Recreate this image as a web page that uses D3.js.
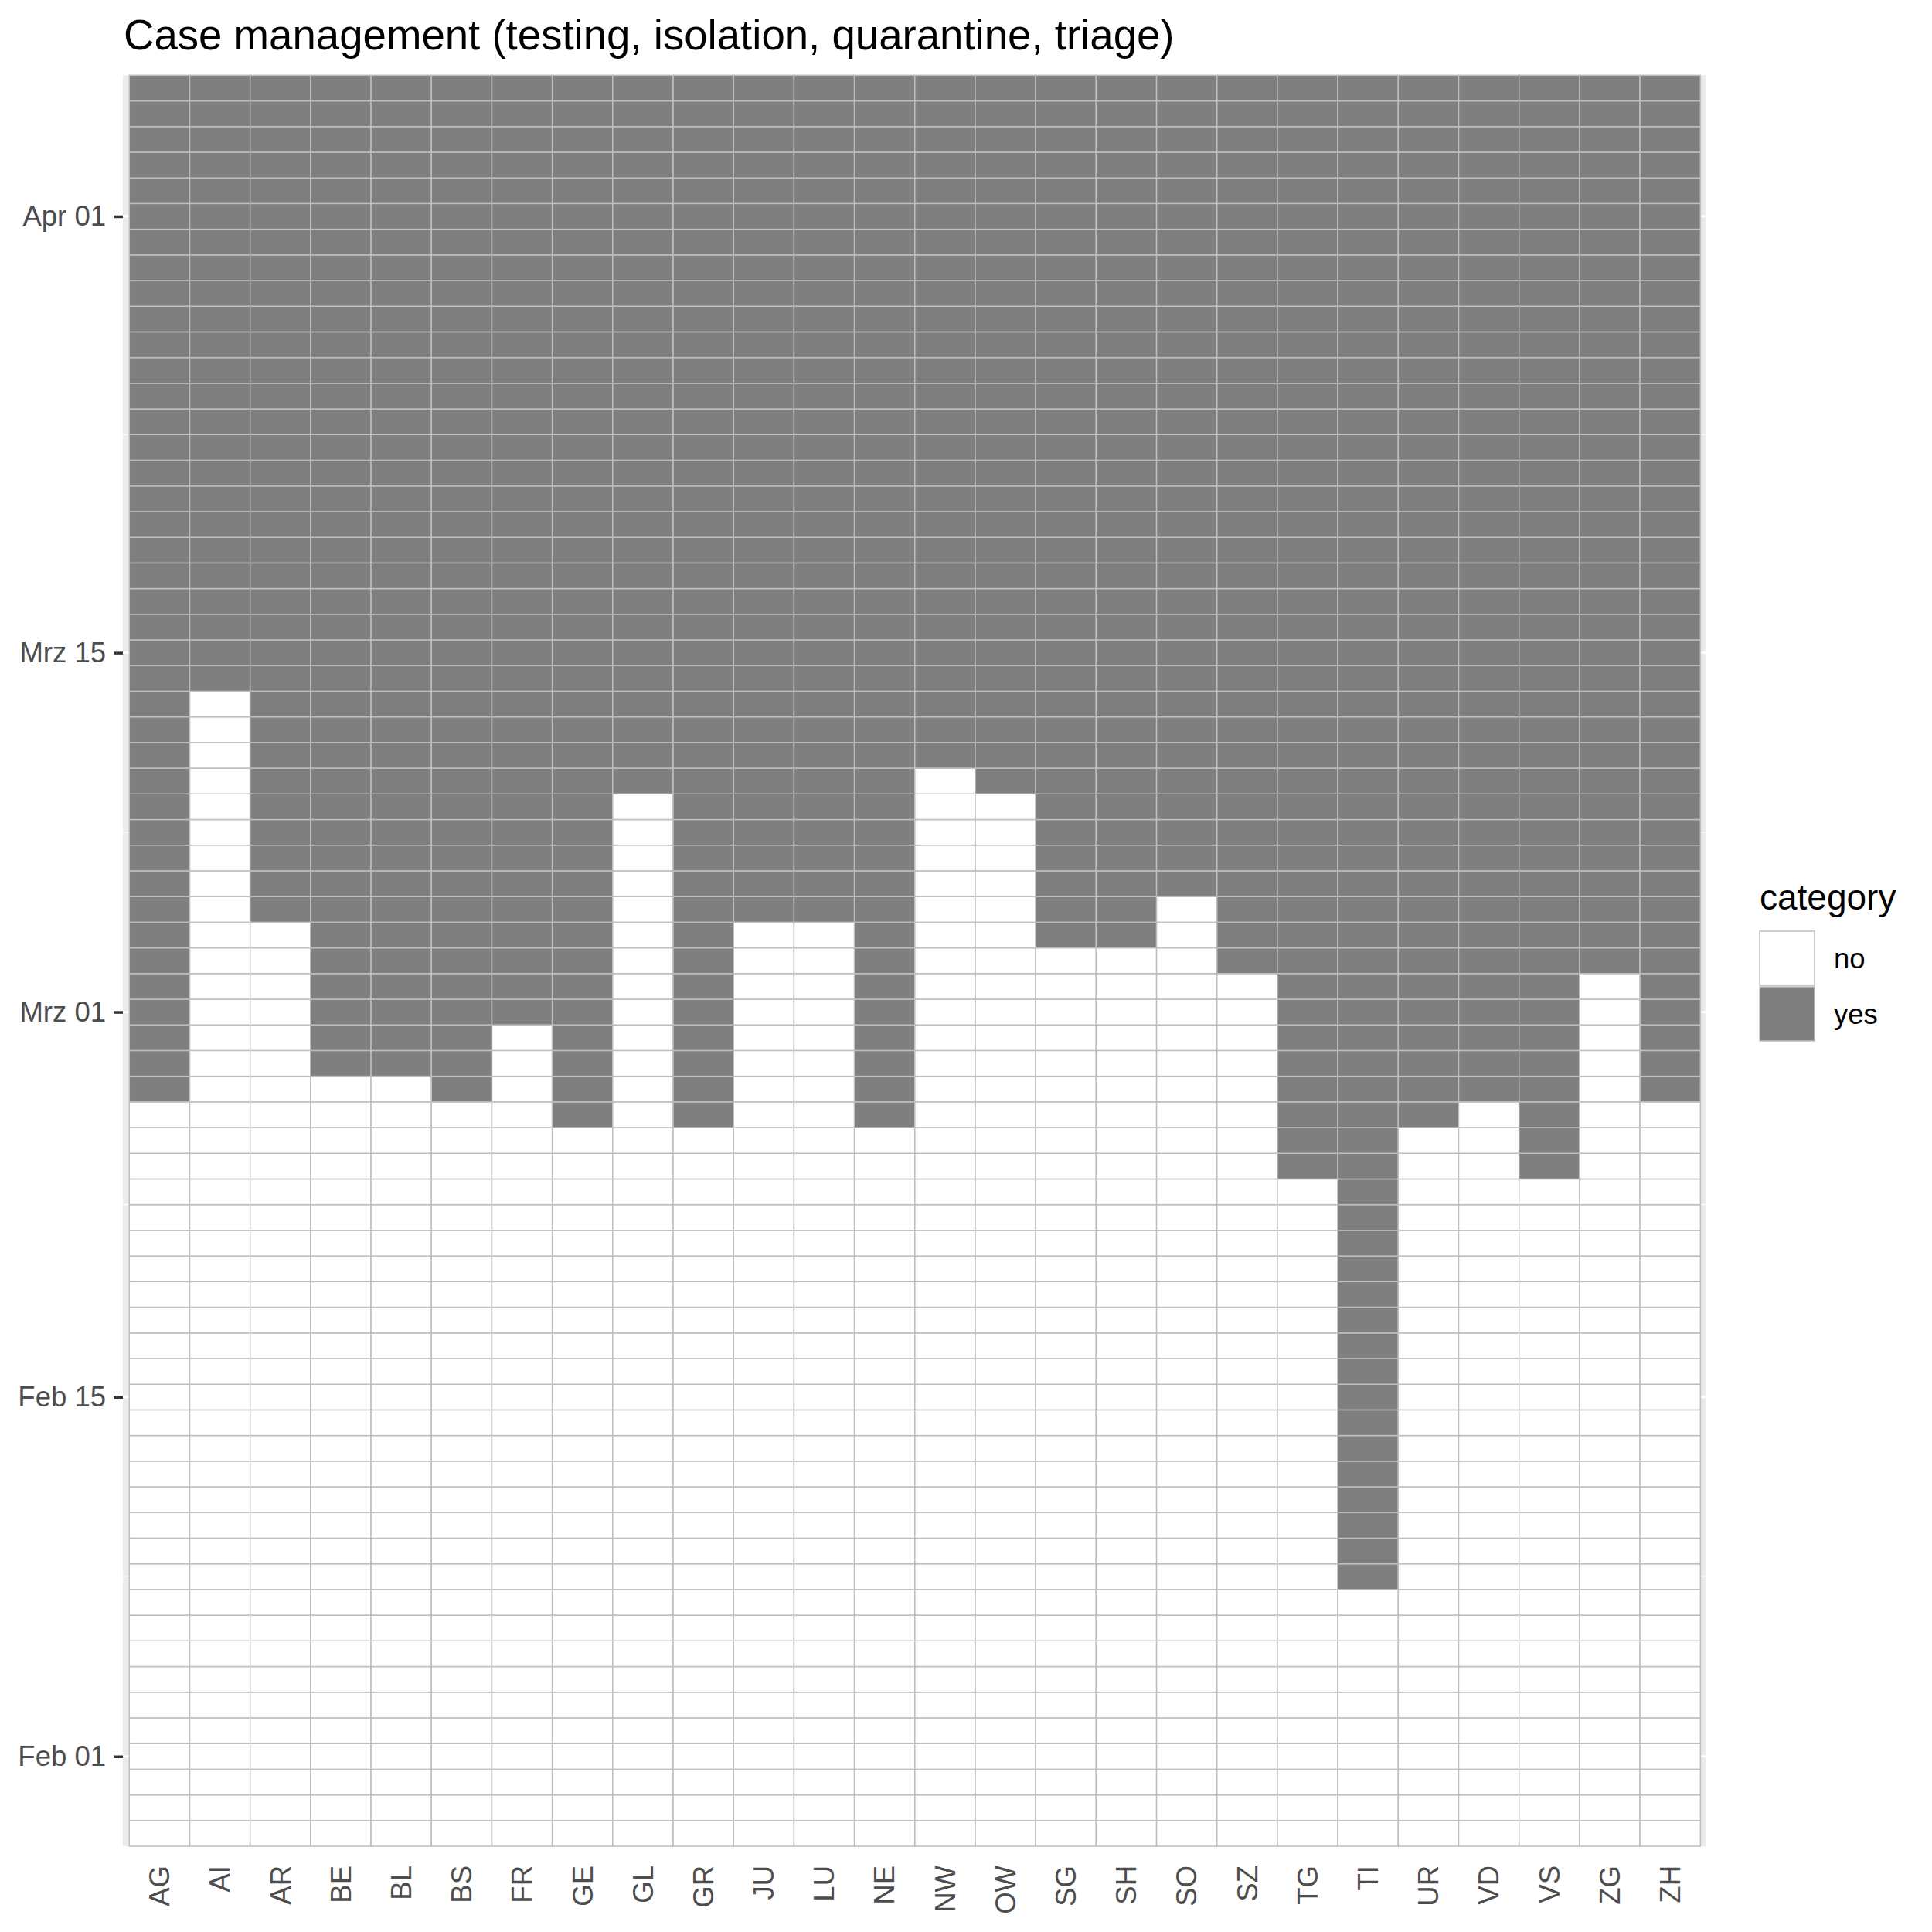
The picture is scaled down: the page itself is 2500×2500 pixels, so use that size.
<!DOCTYPE html>
<html>
<head>
<meta charset="utf-8">
<script src="https://cdn.jsdelivr.net/npm/d3@7"></script>
<style>
  body { margin: 0; background: #fff; }
  text { font-family: "Liberation Sans", Arial, sans-serif; }
</style>
</head>
<body>
<script>
// cantons and the first day each one is "yes" (stays yes till the end)
var cantons = ["AG","AI","AR","BE","BL","BS","FR","GE","GL","GR","JU","LU","NE",
               "NW","OW","SG","SH","SO","SZ","TG","TI","UR","VD","VS","ZG","ZH"];
var yesFrom = ["2020-02-27","2020-03-14","2020-03-05","2020-02-28","2020-02-28","2020-02-27",
               "2020-03-01","2020-02-26","2020-03-10","2020-02-26","2020-03-05","2020-03-05",
               "2020-02-26","2020-03-11","2020-03-10","2020-03-04","2020-03-04","2020-03-06",
               "2020-03-03","2020-02-24","2020-02-08","2020-02-26","2020-02-27","2020-02-24",
               "2020-03-03","2020-02-27"];
var firstDay = "2020-01-29", lastDay = "2020-04-06";
var tickDates = ["2020-02-01","2020-02-15","2020-03-01","2020-03-15","2020-04-01"];
var tickLabels = ["Feb 01","Feb 15","Mrz 01","Mrz 15","Apr 01"];
var categories = ["no","yes"];
var fills = ["#ffffff","#7f7f7f"];

var W = 2500, H = 2500;
var parse = d3.utcParse("%Y-%m-%d");
var HALF = 12 * 3600 * 1000;

var svg = d3.select("body").append("svg")
  .attr("width", W).attr("height", H)
  .style("display", "block");

svg.append("rect").attr("width", W).attr("height", H).attr("fill", "#fff");

var panel = {left: 159, right: 2207, top: 97.3, bottom: 2389};

var x = d3.scaleBand().domain(cantons).range([167.3, 2200.3]).padding(0);
var y = d3.scaleUtc()
  .domain([new Date(parse(firstDay).getTime() - HALF), new Date(parse(lastDay).getTime() + HALF)])
  .range([panel.bottom, panel.top]);
var color = d3.scaleOrdinal().domain(categories).range(fills);

// panel background + grid (only shows in the side strips)
svg.append("rect")
  .attr("x", panel.left).attr("y", panel.top)
  .attr("width", panel.right - panel.left).attr("height", panel.bottom - panel.top)
  .attr("fill", "#ebebeb");

var majors = tickDates.map(parse);
var minors = [];
for (var i = 0; i < majors.length - 1; i++) {
  minors.push(new Date((majors[i].getTime() + majors[i + 1].getTime()) / 2));
}
svg.append("g").selectAll("line").data(minors).enter().append("line")
  .attr("x1", panel.left).attr("x2", panel.right)
  .attr("y1", function(d) { return y(d); }).attr("y2", function(d) { return y(d); })
  .attr("stroke", "#fff").attr("stroke-width", 1.3);
svg.append("g").selectAll("line").data(majors).enter().append("line")
  .attr("x1", panel.left).attr("x2", panel.right)
  .attr("y1", function(d) { return y(d); }).attr("y2", function(d) { return y(d); })
  .attr("stroke", "#fff").attr("stroke-width", 2.8);

// tiles
var days = d3.utcDay.range(parse(firstDay), d3.utcDay.offset(parse(lastDay), 1));
var cells = [];
cantons.forEach(function(c, ci) {
  var start = parse(yesFrom[ci]);
  days.forEach(function(d) {
    cells.push({canton: c, date: d, category: d >= start ? "yes" : "no"});
  });
});

svg.append("g").selectAll("rect").data(cells).enter().append("rect")
  .attr("x", function(d) { return x(d.canton); })
  .attr("y", function(d) { return y(new Date(d.date.getTime() + HALF)); })
  .attr("width", x.bandwidth())
  .attr("height", function(d) { return y(new Date(d.date.getTime() - HALF)) - y(new Date(d.date.getTime() + HALF)); })
  .attr("fill", function(d) { return color(d.category); })
  .attr("stroke", "#bebebe")
  .attr("stroke-width", 1.5);

// y axis
var yAxis = d3.axisLeft(y)
  .tickValues(majors)
  .tickSize(12)
  .tickPadding(10)
  .tickFormat(function(d, i) { return tickLabels[i]; });
var gy = svg.append("g").attr("transform", "translate(" + panel.left + ",0)").call(yAxis);
gy.select(".domain").remove();
gy.selectAll(".tick line").attr("stroke", "#333").attr("stroke-width", 3.5);
gy.selectAll(".tick text")
  .attr("fill", "#4d4d4d")
  .style("font-size", "36.5px")
  .style("font-family", "'Liberation Sans', Arial, sans-serif");

// x axis (no ticks, vertical labels)
var xAxis = d3.axisBottom(x).tickSize(0);
var gx = svg.append("g").attr("transform", "translate(0," + panel.bottom + ")").call(xAxis);
gx.select(".domain").remove();
gx.selectAll(".tick text")
  .attr("transform", "rotate(-90)")
  .attr("x", -25).attr("y", 0).attr("dy", "0.35em")
  .attr("text-anchor", "end")
  .attr("fill", "#4d4d4d")
  .style("font-size", "36.5px")
  .style("font-family", "'Liberation Sans', Arial, sans-serif");

// title
svg.append("text")
  .attr("x", 160).attr("y", 64)
  .style("font-size", "54.6px")
  .attr("fill", "#000")
  .text("Case management (testing, isolation, quarantine, triage)");

// legend
var lg = svg.append("g").attr("transform", "translate(2277,0)");
lg.append("text").attr("x", 0).attr("y", 1177)
  .style("font-size", "46px").attr("fill", "#000").text("category");
var key = lg.selectAll("g.key").data(categories).enter().append("g").attr("class", "key")
  .attr("transform", function(d, i) { return "translate(0," + (1205 + i * 72) + ")"; });
key.append("rect")
  .attr("width", 71).attr("height", 70)
  .attr("fill", function(d) { return color(d); })
  .attr("stroke", "#bebebe").attr("stroke-width", 1.5);
key.append("text")
  .attr("x", 96).attr("y", 35).attr("dy", "0.35em")
  .style("font-size", "36.5px").attr("fill", "#000")
  .text(function(d) { return d; });
</script>
</body>
</html>
